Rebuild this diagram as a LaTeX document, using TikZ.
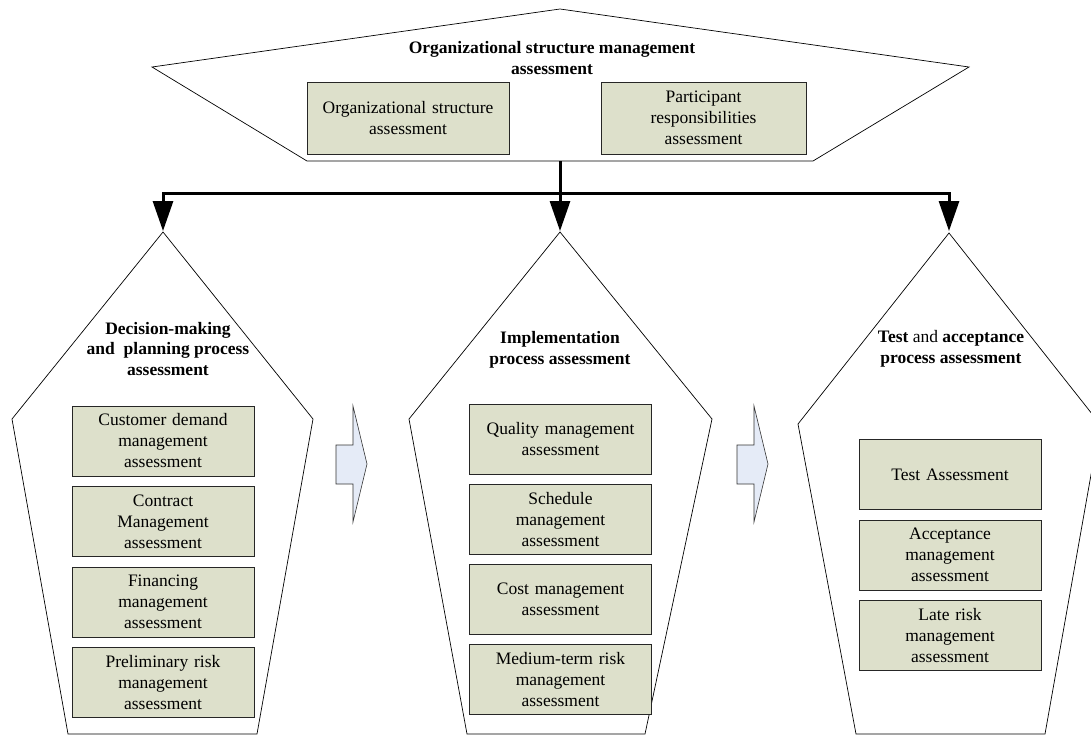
\documentclass[tikz,border=0pt]{standalone}
\usepackage{fontspec}
\setmainfont{Liberation Serif}
\usetikzlibrary{arrows.meta}

\definecolor{boxgreen}{RGB}{221,224,203}
\definecolor{flowblue}{RGB}{229,235,247}

\tikzset{
  item/.style={draw=black!85, line width=1pt, fill=boxgreen,
    minimum width=182pt, minimum height=70pt, text width=176pt,
    align=center, inner sep=0pt, font=\fontsize{17.5}{21}\selectfont},
  head/.style={align=center, font=\bfseries\fontsize{17.5}{20.5}\selectfont},
  phase/.style={draw, line width=0.7pt, fill=white},
  bus/.style={line width=3pt},
  busarrow/.style={bus, -{Triangle[width=20pt,length=30pt]}},
  flow/.style={draw=black!80, line width=0.6pt, fill=flowblue}
}

\begin{document}
\begin{tikzpicture}[x=1pt, y=-1pt]
    \useasboundingbox (0,0) rectangle (1091,734);
    \clip (0,0) rectangle (1091,734);

    % top block
    \draw[phase] (152,67) -- (560,9) -- (969,67) -- (813,161) -- (307,161) -- cycle;
    \node[head] (orgtitle) at (552,58) {Organizational structure management\\assessment};
    \node[item, minimum width=202pt, text width=196pt, minimum height=72pt]
      (orgA) at (408,118) {Organizational structure\\assessment};
    \node[item, minimum width=205pt, text width=199pt, minimum height=72pt]
      (orgB) at (703.5,118) {Participant\\responsibilities\\assessment};

    % the three phases
    \draw[phase] (163,232) -- (313,419) -- (257,734) -- (68,734) -- (12,419) -- cycle;
    \draw[phase] (560,232) -- (712,419) -- (645,734) -- (467,734) -- (409,419) -- cycle;
    \draw[phase] (949,233) -- (1100,424) -- (1045,734) -- (856,734) -- (798,424) -- cycle;

    \coordinate (decTop) at (163,231);
    \coordinate (impTop) at (560,231);
    \coordinate (accTop) at (949,231);
    \coordinate (orgBot) at (560,161);
    \coordinate (hub) at (560,193);

    \draw[bus] (orgBot) -- (hub);
    \draw[busarrow] (hub) -| (decTop);
    \draw[busarrow] (hub) -- (impTop);
    \draw[busarrow] (hub) -| (accTop);

    \node[head] (dectitle) at (168,349) {Decision-making\\and \ planning process\\assessment};
    \node[head] (imptitle) at (560,350) {Implementation\\process assessment};
    \node[head] (acctitle) at (951,349) {Test \textmd{and} acceptance\\process assessment};

    \foreach \t [count=\i from 0] in {{Customer demand\\management\\assessment},
        {Contract\\Management\\assessment}, {Financing\\management\\assessment},
        {Preliminary risk\\management\\assessment}}
      \node[item] (dec\i) at (163,441+80.5*\i) {\t};

    \foreach \t [count=\i from 0] in {{Quality management\\assessment},
        {Schedule\\management\\assessment}, {Cost management\\assessment},
        {Medium-term risk\\management\\assessment}}
      \node[item] (imp\i) at (560.5,439+80.3*\i) {\t};

    \foreach \t [count=\i from 0] in {{Test Assessment},
        {Acceptance\\management\\assessment}, {Late risk\\management\\assessment}}
      \node[item] (acc\i) at (950,474.5+80.5*\i) {\t};

    % block arrows between phases
    \foreach \dx in {0,401}
      \draw[flow, xshift=\dx] (336,445) -- (353,445) -- (353,406) -- (367,464)
        -- (353,522) -- (353,484) -- (336,484) -- cycle;
\end{tikzpicture}
\end{document}
